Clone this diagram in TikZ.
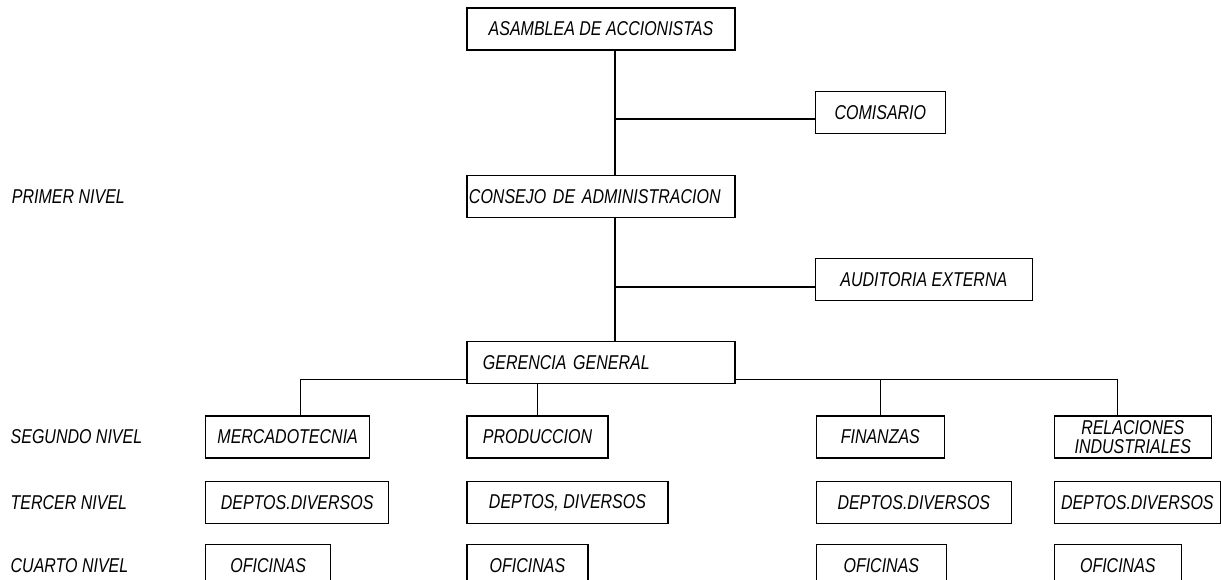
\documentclass[tikz,border=0pt]{standalone}
\usepackage{fontspec}
\setmainfont{Liberation Sans}[FakeStretch=0.8]
\usetikzlibrary{positioning}

\begin{document}
\begin{tikzpicture}[line width=1pt]
	% estilos de los nodos
	\tikzstyle{box} = [rectangle, draw, align=center, inner sep=1pt, minimum height=31.5pt, font=\fontsize{15}{14}\selectfont\itshape]
	\tikzstyle{nivel} = [anchor=west, inner sep=0pt, font=\fontsize{15}{14}\selectfont\itshape]
	
	\useasboundingbox (-450.75pt,21.75pt) rectangle (465pt,-412.5pt);
	
	% nodos
	\node [box, minimum width=201pt] (asamblea) at (0,0) {ASAMBLEA DE ACCIONISTAS};
	\node [box, minimum width=97.5pt, below right=30pt and 59.25pt of asamblea] (comisario) {COMISARIO};
	\node [box, text width=198pt, inner xsep=1.5pt, align=left, below=93pt of asamblea] (consejo) {CONSEJO DE ADMINISTRACION};
	\node [box, minimum width=162.75pt, below right=30pt and 59.25pt of consejo] (auditoria) {AUDITORIA EXTERNA};
	\node [box, text width=177pt, inner xsep=12pt, align=left, below=92.25pt of consejo] (gerencia) {GERENCIA GENERAL};
	
	\node [box, minimum width=123pt, below left=23.25pt and 72pt of gerencia] (mercado) {MERCADOTECNIA};
	\node [box, minimum width=105.75pt, below right=23.25pt and 0pt of gerencia.south west] (produccion) {PRODUCCION};
	\node [box, minimum width=96pt, below right=23.25pt and 60pt of gerencia] (finanzas) {FINANZAS};
	\node [box, minimum width=117.75pt, inner ysep=0pt, below right=23.25pt and 238.5pt of gerencia] (relaciones) {RELACIONES\\INDUSTRIALES};
	
	\node [box, minimum width=137.25pt, below right=16.5pt and 0pt of mercado.south west] (deptosm) {DEPTOS.DIVERSOS};
	\node [box, minimum width=150.75pt, below right=16.5pt and 0pt of produccion.south west] (deptosp) {DEPTOS, DIVERSOS};
	\node [box, minimum width=146.25pt, below right=16.5pt and 0pt of finanzas.south west] (deptosf) {DEPTOS.DIVERSOS};
	\node [box, minimum width=124.5pt, below right=16.5pt and 0pt of relaciones.south west] (deptosr) {DEPTOS.DIVERSOS};
	
	\node [box, minimum width=93.75pt, minimum height=30.75pt, below right=15pt and 0pt of deptosm.south west] (oficm) {OFICINAS};
	\node [box, minimum width=90.75pt, minimum height=30.75pt, below right=15pt and 0pt of deptosp.south west] (oficp) {OFICINAS};
	\node [box, minimum width=97.5pt, minimum height=30.75pt, below right=15pt and 0pt of deptosf.south west] (oficf) {OFICINAS};
	\node [box, minimum width=95.25pt, minimum height=30.75pt, below right=15pt and 0pt of deptosr.south west] (oficr) {OFICINAS};
	
	% niveles
	\node [nivel] (primer) at ([xshift=-341.25pt]consejo.west) {PRIMER NIVEL};
	\node [nivel] (segundo) at ([xshift=-146.25pt]mercado.west) {SEGUNDO NIVEL};
	\node [nivel] (tercer) at ([xshift=-146.25pt]deptosm.west) {TERCER NIVEL};
	\node [nivel] (cuarto) at ([xshift=-146.25pt]oficm.west) {CUARTO NIVEL};
	
	% lineas
	\coordinate (eje) at ([xshift=10.5pt]asamblea.south);
	\coordinate (bus) at ([yshift=3.75pt]gerencia.south);
	\coordinate (ramac) at ([yshift=-5pt]comisario.west);
	\coordinate (ramaa) at ([yshift=-5.5pt]auditoria.west);
	\draw (eje) -- (eje |- consejo.north);
	\draw (eje |- consejo.south) -- (eje |- gerencia.north);
	\draw (ramac -| eje) -- (ramac);
	\draw (ramaa -| eje) -- (ramaa);
	\draw (gerencia.west |- bus) -| ([xshift=9.75pt]mercado.north);
	\draw (gerencia.east |- bus) -| ([xshift=-11.6pt]relaciones.north);
	\draw (finanzas.north |- bus) -- (finanzas.north);
	\draw (produccion.north |- gerencia.south) -- (produccion.north);
\end{tikzpicture}
\end{document}
